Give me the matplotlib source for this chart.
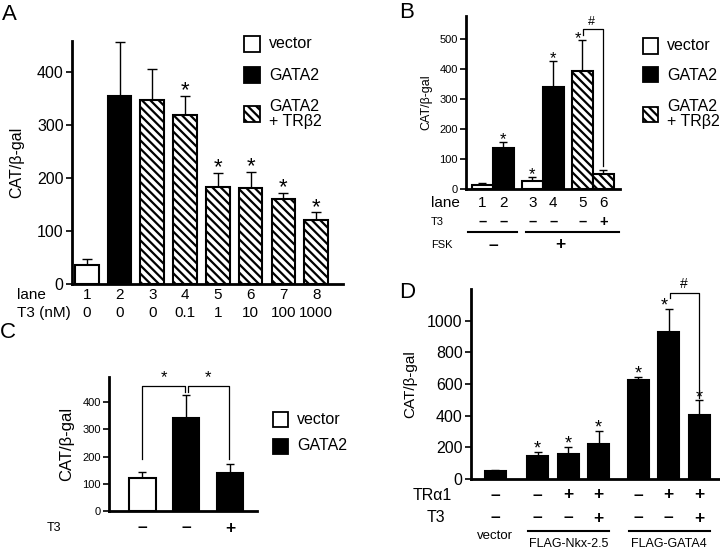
import numpy as np
import matplotlib
matplotlib.use('Agg')
import matplotlib.pyplot as plt
from matplotlib.patches import Rectangle
from matplotlib.lines import Line2D

plt.rcParams['font.family'] = ['Liberation Sans', 'DejaVu Sans']
plt.rcParams['hatch.linewidth'] = 1.6

# ---- data ----
# panel A
A_lane = ['1', '2', '3', '4', '5', '6', '7', '8']
A_t3 = ['0', '0', '0', '0.1', '1', '10', '100', '1000']
A_mean = [35, 355, 347, 318, 182, 180, 160, 121]
A_err = [13, 102, 59, 37, 27, 32, 12, 14]
A_kind = ['vector', 'GATA2', 'TR', 'TR', 'TR', 'TR', 'TR', 'TR']
A_star = [0, 0, 0, 1, 1, 1, 1, 1]
A_yticks = [0, 100, 200, 300, 400]

# panel B
B_lane = ['1', '2', '3', '4', '5', '6']
B_t3 = ['–', '–', '–', '–', '–', '+']
B_mean = [12, 138, 26, 339, 393, 49]
B_err = [8, 20, 14, 89, 103, 13]
B_kind = ['vector', 'GATA2', 'vector', 'GATA2', 'TR', 'TR']
B_star = [0, 1, 1, 1, 1, 0]
B_yticks = [0, 100, 200, 300, 400, 500]

# panel C
C_t3 = ['–', '–', '+']
C_mean = [121, 341, 139]
C_err = [21, 86, 33]
C_kind = ['vector', 'GATA2', 'GATA2']
C_yticks = [0, 100, 200, 300, 400]

# panel D
D_tra1 = ['–', '–', '+', '+', '–', '+', '+']
D_t3 = ['–', '–', '–', '+', '–', '–', '+']
D_mean = [49, 148, 156, 219, 626, 929, 404]
D_err = [10, 20, 45, 87, 20, 144, 92]
D_star = [0, 1, 1, 1, 1, 1, 1]
D_yticks = [0, 200, 400, 600, 800, 1000]

legend_labels = {'vector': 'vector', 'GATA2': 'GATA2', 'TR': 'GATA2\n+ TRβ2'}
styles = {'vector': dict(facecolor='white'),
          'GATA2': dict(facecolor='black'),
          'TR': dict(facecolor='white', hatch='\\\\\\\\')}

W, H = 720, 552
fig = plt.figure(figsize=(W / 100, H / 100), dpi=100)


def axes_px(l, t, r, b):
    return fig.add_axes([l / W, 1 - b / H, (r - l) / W, (b - t) / H])


def yfrac(ax, ypx):
    bb = ax.get_position()
    return ((1 - ypx / H) - bb.y0) / bb.height


def ftext(x, y, s, **kw):
    fig.text(x / W, 1 - y / H, s, **kw)


def row(ax, xs, labels, ypx, **kw):
    for x, s in zip(xs, labels):
        ax.text(x, yfrac(ax, ypx), s, transform=ax.get_xaxis_transform(),
                ha='center', va='center', clip_on=False, **kw)


def hline(ax, x0, x1, ypx, lw=1.5):
    y = yfrac(ax, ypx)
    ax.add_line(Line2D([x0, x1], [y, y], transform=ax.get_xaxis_transform(),
                       color='black', lw=lw, clip_on=False))


def style_ax(ax, fs):
    for s in ['top', 'right']:
        ax.spines[s].set_visible(False)
    for s in ['left', 'bottom']:
        ax.spines[s].set_linewidth(2)
    ax.tick_params(axis='x', length=0, labelbottom=False)
    ax.tick_params(axis='y', length=4, width=1.2, labelsize=fs, pad=2)


def bars(ax, pos, mean, err, kinds, width, capsize):
    for p, m, k in zip(pos, mean, kinds):
        ax.bar(p, m, width=width, edgecolor='black', linewidth=1.5, zorder=2, **styles[k])
    ax.errorbar(pos, mean, yerr=[np.zeros(len(mean)), err], fmt='none', ecolor='black',
                elinewidth=1, capsize=capsize, capthick=1, zorder=1)


def legend(x, ys, kinds, size, fs):
    for y, k in zip(ys, kinds):
        fig.add_artist(Rectangle((x / W, 1 - (y + size / 2) / H), size / W, size / H,
                                 transform=fig.transFigure, edgecolor='black', lw=1.3,
                                 **styles[k]))
        ftext(x + size + 9, y, legend_labels[k], fontsize=fs, va='center', ha='left',
              linespacing=1.05)


sign = dict(fontweight='bold')

# ---------------- panel A ----------------
axA = axes_px(72, 41, 343, 284)
A_pos = np.arange(1, len(A_mean) + 1)
bars(axA, A_pos, A_mean, A_err, A_kind, 0.72, 3.6)
axA.set_xlim(0.55, 8.82)
axA.set_ylim(0, 458)
axA.set_yticks(A_yticks)
style_ax(axA, 11.5)
axA.set_ylabel('CAT/β-gal', fontsize=11.5, labelpad=9)
for p, m, e, s in zip(A_pos, A_mean, A_err, A_star):
    if s:
        axA.annotate('*', (p, m + e), xytext=(0, -4), textcoords='offset points',
                     ha='center', va='bottom', fontsize=16)
row(axA, A_pos, A_lane, 295, fontsize=11)
row(axA, A_pos, A_t3, 313, fontsize=11)
ftext(17, 295, 'lane', fontsize=11, va='center')
ftext(17, 313, 'T3 (nM)', fontsize=11, va='center')
ftext(2, 15, 'A', fontsize=16, va='center')
legend(244, [44, 75, 114], ['vector', 'GATA2', 'TR'], 16, 11.5)

# ---------------- panel B ----------------
axB = axes_px(466, 16, 620, 189)
B_pos = np.array([0, 1, 2.4, 3.4, 4.8, 5.8])
bars(axB, B_pos, B_mean, B_err, B_kind, 1.0, 3)
axB.set_xlim(-0.79, 6.6)
axB.set_ylim(0, 577)
axB.set_yticks(B_yticks)
style_ax(axB, 8)
axB.set_ylabel('CAT/β-gal', fontsize=9, labelpad=5)
for i, (p, m, e, s) in enumerate(zip(B_pos, B_mean, B_err, B_star)):
    if s:
        dx = -0.2 if i == 4 else 0
        axB.annotate('*', (p + dx, m + e), xytext=(0, -4), textcoords='offset points',
                     ha='center', va='bottom', fontsize=12)
# '#' bracket between lanes 5 and 6
yb = B_mean[4] + B_err[4] + 37
axB.plot([B_pos[4] + 0.03, B_pos[4] + 0.03, B_pos[5], B_pos[5]],
         [yb - 20, yb, yb, B_mean[5] + B_err[5] + 15], color='black', lw=0.9, clip_on=False)
axB.text((B_pos[4] + B_pos[5]) / 2 - 0.05, yb + 5, '#', ha='center', va='bottom', fontsize=9)
row(axB, B_pos, B_lane, 203, fontsize=11)
row(axB, B_pos, B_t3, 222, fontsize=10.5, **sign)
ftext(431, 203, 'lane', fontsize=11, va='center')
ftext(431, 222, 'T3', fontsize=8, va='center')
ftext(431, 245, 'FSK', fontsize=8, va='center')
hline(axB, B_pos[0] - 0.69, B_pos[1] + 0.64, 232)
hline(axB, B_pos[2] - 0.3, B_pos[5] + 0.75, 232)
row(axB, [(B_pos[0] + B_pos[1]) / 2, (B_pos[2] + B_pos[5]) / 2 - 0.35], ['–', '+'], 245,
    fontsize=12.5, **sign)
ftext(399, 13, 'B', fontsize=16, va='center')
legend(643, [46, 75, 114], ['vector', 'GATA2', 'TR'], 15, 11.5)

# ---------------- panel C ----------------
axC = axes_px(109, 377, 257, 511)
C_pos = np.arange(1, len(C_mean) + 1)
bars(axC, C_pos, C_mean, C_err, C_kind, 0.6, 3.2)
axC.set_xlim(0.24, 3.61)
axC.set_ylim(0, 493)
axC.set_yticks(C_yticks)
style_ax(axC, 8)
axC.set_ylabel('CAT/β-gal', fontsize=12, labelpad=6)
ybr = C_mean[1] + C_err[1] + 33
axC.plot([C_pos[0], C_pos[0], C_pos[1] - 0.03, C_pos[1] - 0.03],
         [C_mean[0] + C_err[0] + 49, ybr, ybr, ybr - 22], color='black', lw=0.9, clip_on=False)
axC.plot([C_pos[1] + 0.03, C_pos[1] + 0.03, C_pos[2] - 0.02, C_pos[2] - 0.02],
         [ybr - 22, ybr, ybr, C_mean[2] + C_err[2] + 19], color='black', lw=0.9, clip_on=False)
for a, b in [(0, 1), (1, 2)]:
    axC.text((C_pos[a] + C_pos[b]) / 2, ybr + 3, '*', ha='center', va='bottom', fontsize=12)
row(axC, C_pos, C_t3, 528, fontsize=12.5, **sign)
ftext(47, 528, 'T3', fontsize=9, va='center')
ftext(0, 333, 'C', fontsize=16, va='center')
legend(273, [419, 446], ['vector', 'GATA2'], 15, 11.5)

# ---------------- panel D ----------------
axD = axes_px(471, 289, 720, 479)
D_pos = np.array([0, 1.4, 2.4, 3.4, 4.7, 5.7, 6.7])
bars(axD, D_pos, D_mean, D_err, ['GATA2'] * 7, 0.69, 3)
axD.set_xlim(-0.79, 7.38)
axD.set_ylim(0, 1200)
axD.set_yticks(D_yticks)
style_ax(axD, 11.5)
axD.set_ylabel('CAT/β-gal', fontsize=11, labelpad=7)
for i, (p, m, e, s) in enumerate(zip(D_pos, D_mean, D_err, D_star)):
    if s:
        dx = -0.15 if i == 5 else 0
        axD.annotate('*', (p + dx, m + e), xytext=(0, -4), textcoords='offset points',
                     ha='center', va='bottom', fontsize=13)
yd = 1177
axD.plot([D_pos[5] + 0.04, D_pos[5] + 0.04, D_pos[6], D_pos[6]],
         [yd - 32, yd, yd, D_mean[6] + D_err[6] + 17], color='black', lw=0.9, clip_on=False)
axD.text((D_pos[5] + D_pos[6]) / 2, yd + 8, '#', ha='center', va='bottom', fontsize=10)
row(axD, D_pos, D_tra1, 495, fontsize=12.5, **sign)
row(axD, D_pos, D_t3, 518, fontsize=12.5, **sign)
ftext(452, 495, 'TRα1', fontsize=11.5, va='center', ha='right')
ftext(445, 518, 'T3', fontsize=11.5, va='center', ha='right')
row(axD, [D_pos[0]], ['vector'], 536, fontsize=9.5)
hline(axD, D_pos[1] - 0.32, D_pos[3] + 0.34, 531)
hline(axD, D_pos[4] - 0.31, D_pos[6] + 0.34, 531)
row(axD, [D_pos[2], D_pos[5]], ['FLAG-Nkx-2.5', 'FLAG-GATA4'], 544, fontsize=9)
ftext(399, 293, 'D', fontsize=16, va='center')

fig.savefig('out.png', dpi=100)
